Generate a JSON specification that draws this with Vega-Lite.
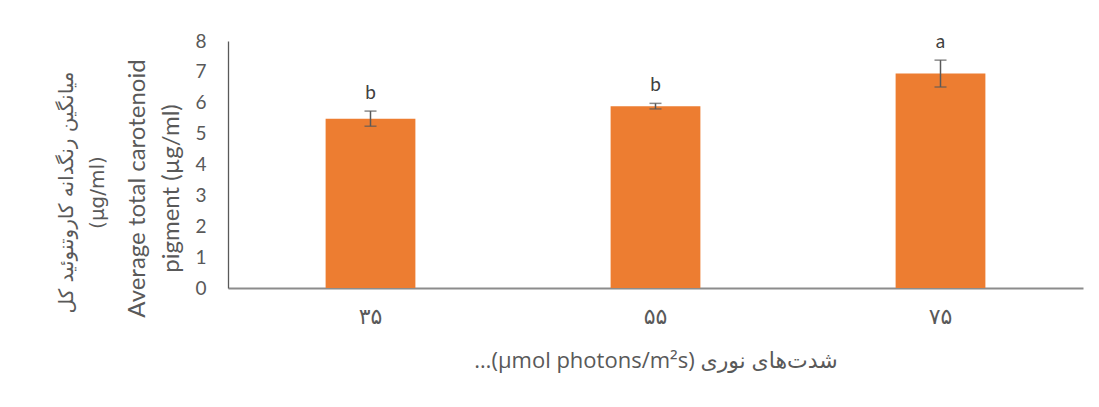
{
  "$schema": "https://vega.github.io/schema/vega-lite/v6.json",
  "width": 855,
  "height": 247,
  "autosize": "none",
  "padding": {"left": 228, "top": 41, "right": 16, "bottom": 119},
  "background": "white",
  "config": {
    "view": {"stroke": null},
    "font": "Lato",
    "axisY": {
      "labelOverlap": false,
      "labelSeparation": -20,
      "labelBound": false,
      "labelLineHeight": 19,
      "grid": false,
      "ticks": false,
      "labelFontSize": 19,
      "labelColor": "#595959",
      "labelPadding": 22,
      "domainColor": "#595959",
      "domainWidth": 1.3,
      "titleFontSize": 24,
      "titleFontWeight": "normal",
      "titleColor": "#595959",
      "titleLineHeight": 34,
      "titleX": -91,
      "titleY": 147,
      "titleBaseline": "middle",
      "titleAngle": -90
    }
  },
  "title": {
    "text": ["میانگین رنگدانه کاروتنوئید کل", "(µg/ml)"],
    "orient": "left",
    "anchor": "middle",
    "fontSize": 20,
    "fontWeight": "normal",
    "color": "#595959",
    "font": "DejaVu Sans",
    "lineHeight": 31,
    "offset": 17,
    "dx": -28
  },
  "data": {
    "values": [
      {"light": "۳۵", "mean": 5.48, "lo": 5.24, "hi": 5.73, "group": "b"},
      {"light": "۵۵", "mean": 5.89, "lo": 5.80, "hi": 5.98, "group": "b"},
      {"light": "۷۵", "mean": 6.95, "lo": 6.51, "hi": 7.38, "group": "a"}
    ]
  },
  "encoding": {
    "x": {
      "field": "light",
      "type": "nominal",
      "sort": null,
      "scale": {"paddingInner": 0.685, "paddingOuter": 0.3425},
      "axis": {
        "title": "…(µmol photons/m²s) شدت‌های نوری",
        "titleFont": "Open Sans, DejaVu Sans",
        "titleFontSize": 22,
        "titleFontWeight": "normal",
        "titleColor": "#595959",
        "titlePadding": 23,
        "labelAngle": 0,
        "labelFontSize": 22,
        "labelColor": "#595959",
        "labelFont": "DejaVu Sans",
        "labelPadding": 18,
        "ticks": false,
        "domainColor": "#8c8c8c",
        "domainWidth": 2
      }
    },
    "y": {
      "field": "mean",
      "type": "quantitative",
      "scale": {"domain": [0, 8], "nice": false},
      "axis": {"title": ["Average total carotenoid", "pigment (µg/ml)"], "values": [0, 1, 2, 3, 4, 5, 6, 7, 8], "labelOverlap": false, "labelSeparation": -20}
    }
  },
  "layer": [
    {
      "mark": {"type": "bar", "color": "#ED7D31"}
    },
    {
      "mark": {"type": "rule", "color": "#595959", "strokeWidth": 1.5},
      "encoding": {
        "y": {"field": "lo", "type": "quantitative", "axis": {"title": ["Average total carotenoid", "pigment (µg/ml)"], "values": [0, 1, 2, 3, 4, 5, 6, 7, 8], "labelOverlap": false, "labelSeparation": -20}},
        "y2": {"field": "hi"}
      }
    },
    {
      "mark": {"type": "tick", "color": "#595959", "size": 12, "thickness": 1.5, "orient": "horizontal"},
      "encoding": {"y": {"field": "lo", "type": "quantitative", "axis": {"title": ["Average total carotenoid", "pigment (µg/ml)"], "values": [0, 1, 2, 3, 4, 5, 6, 7, 8], "labelOverlap": false, "labelSeparation": -20}}}
    },
    {
      "mark": {"type": "tick", "color": "#595959", "size": 12, "thickness": 1.5, "orient": "horizontal"},
      "encoding": {"y": {"field": "hi", "type": "quantitative", "axis": {"title": ["Average total carotenoid", "pigment (µg/ml)"], "values": [0, 1, 2, 3, 4, 5, 6, 7, 8], "labelOverlap": false, "labelSeparation": -20}}}
    },
    {
      "mark": {"type": "text", "fontSize": 19, "color": "#404040", "baseline": "alphabetic", "dy": -12},
      "encoding": {
        "y": {"field": "hi", "type": "quantitative", "axis": {"title": ["Average total carotenoid", "pigment (µg/ml)"], "values": [0, 1, 2, 3, 4, 5, 6, 7, 8], "labelOverlap": false, "labelSeparation": -20}},
        "text": {"field": "group"}
      }
    }
  ]
}
